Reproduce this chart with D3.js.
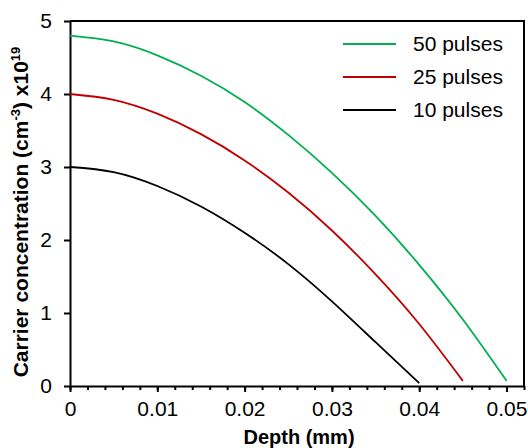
<!DOCTYPE html>
<html>
<head>
<meta charset="utf-8">
<script src="https://cdn.jsdelivr.net/npm/d3@7"></script>
<style>
  body { margin: 0; background: #fff; }
  svg { display: block; font-family: Arial, "Liberation Sans", sans-serif; }
</style>
</head>
<body>
<div id="chart"></div>
<script>
// Depth (mm) sample points
const depth = [0, 0.005, 0.01, 0.015, 0.02, 0.025, 0.03, 0.035, 0.04, 0.045, 0.05];

// Carrier concentration (x10^19 cm^-3)
const pulses50 = [4.80, 4.72, 4.53, 4.25, 3.89, 3.44, 2.92, 2.33, 1.66, 0.91, 0.07];
const pulses25 = [4.00, 3.92, 3.73, 3.45, 3.09, 2.65, 2.13, 1.53, 0.85, 0.07];
const pulses10 = [3.00, 2.93, 2.74, 2.46, 2.10, 1.67, 1.16, 0.60, 0.04];

const seriesNames = ['50 pulses', '25 pulses', '10 pulses'];
const seriesValues = [pulses50, pulses25, pulses10];
const seriesColors = ['#00b050', '#c00000', '#000000'];

const xTicks = [0, 0.01, 0.02, 0.03, 0.04, 0.05];
const yTicks = [0, 1, 2, 3, 4, 5];

const width = 528, height = 448;
const margin = { top: 21, right: 4, bottom: 62, left: 70 };

const svg = d3.select('#chart')
    .append('svg')
    .attr('width', width)
    .attr('height', height);

const x = d3.scaleLinear()
    .domain([0, 0.052])
    .range([margin.left, width - margin.right]);

const y = d3.scaleLinear()
    .domain([0, 5])
    .range([height - margin.bottom, margin.top]);

// Frame (top and right)
svg.append('path')
    .attr('d', `M${x(0)},${y(5)}H${x(0.052)}V${y(0)}`)
    .attr('fill', 'none')
    .attr('stroke', '#000')
    .attr('stroke-width', 2);

// Minor x ticks
const minor = d3.range(0, 0.0521, 0.002);
svg.append('g')
    .attr('transform', `translate(0,${y(0)})`)
    .call(d3.axisBottom(x).tickValues(minor).tickSize(4).tickFormat(''))
    .call(g => g.select('.domain').remove())
    .call(g => g.selectAll('line').attr('stroke-width', 2));

// X axis
svg.append('g')
    .attr('transform', `translate(0,${y(0)})`)
    .call(d3.axisBottom(x).tickValues(xTicks).tickSize(6).tickSizeOuter(0).tickPadding(9)
        .tickFormat(d => d === 0 ? '0' : d3.format('.2f')(d)))
    .call(g => g.select('.domain').attr('stroke-width', 2))
    .call(g => g.selectAll('line').attr('stroke-width', 2))
    .call(g => g.selectAll('text').attr('font-size', 21).attr('fill', '#000'));

// Y axis
svg.append('g')
    .attr('transform', `translate(${x(0)},0)`)
    .call(d3.axisLeft(y).tickValues(yTicks).tickSize(6).tickSizeOuter(0).tickPadding(12)
        .tickFormat(d3.format('d')))
    .call(g => g.select('.domain').attr('stroke-width', 2))
    .call(g => g.selectAll('line').attr('stroke-width', 2))
    .call(g => g.selectAll('text').attr('font-size', 21).attr('fill', '#000'));

// Axis titles
svg.append('text')
    .attr('x', (x(0) + x(0.052)) / 2 + 2)
    .attr('y', 444)
    .attr('text-anchor', 'middle')
    .attr('font-size', 20)
    .attr('font-weight', 'bold')
    .text('Depth (mm)');

const yTitle = svg.append('text')
    .attr('transform', 'translate(28,212) rotate(-90)')
    .attr('text-anchor', 'middle')
    .attr('font-size', 21)
    .attr('font-weight', 'bold');
yTitle.append('tspan').text('Carrier concentration (cm');
yTitle.append('tspan').attr('font-size', 13).attr('dy', -8).text('-3');
yTitle.append('tspan').attr('dy', 8).text(') x10');
yTitle.append('tspan').attr('font-size', 13).attr('dy', -8).text('19');

// Curves
const line = d3.line()
    .x((d, i) => x(depth[i]))
    .y(d => y(d))
    .curve(d3.curveNatural);

svg.append('g')
    .selectAll('path')
    .data(seriesValues)
    .join('path')
    .attr('d', d => line(d))
    .attr('fill', 'none')
    .attr('stroke', (d, i) => seriesColors[i])
    .attr('stroke-width', 1.8);

// Legend
const legend = svg.append('g')
    .selectAll('g')
    .data(seriesNames)
    .join('g')
    .attr('transform', (d, i) => `translate(343,${44 + i * 33})`);

legend.append('line')
    .attr('x1', 0)
    .attr('x2', 53)
    .attr('stroke', (d, i) => seriesColors[i])
    .attr('stroke-width', 1.8);

legend.append('text')
    .attr('x', 70)
    .attr('dy', '0.35em')
    .attr('font-size', 21)
    .text(d => d);
</script>
</body>
</html>
